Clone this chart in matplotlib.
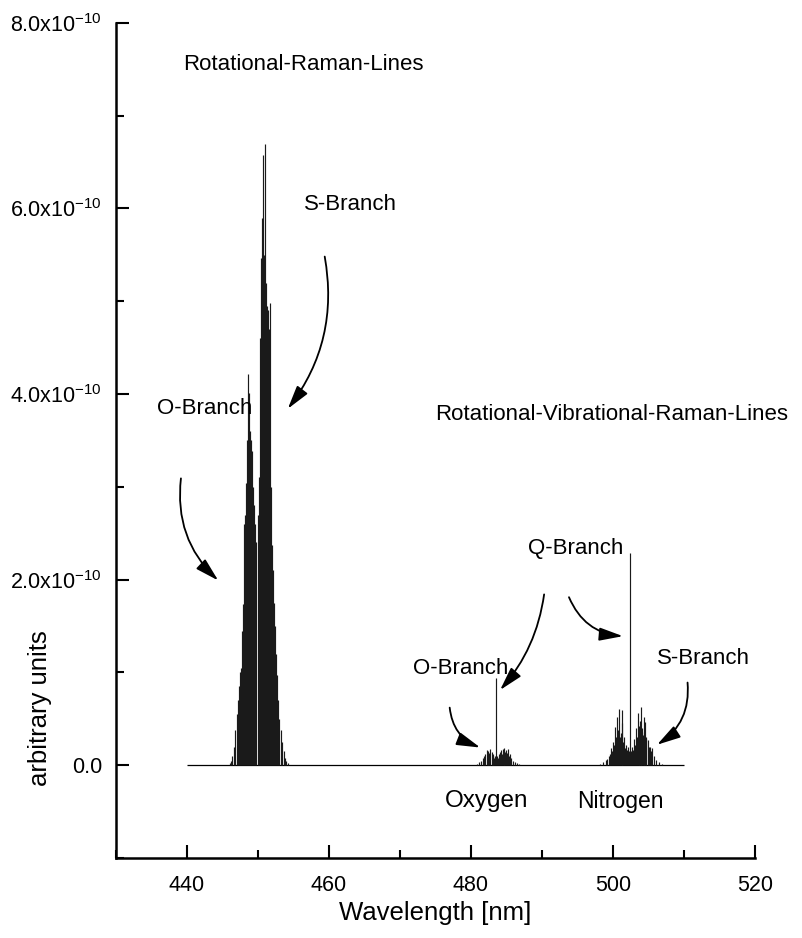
import numpy as np
import matplotlib.pyplot as plt
from matplotlib.ticker import MultipleLocator, FuncFormatter

plt.rcParams['font.family'] = ['Liberation Sans', 'DejaVu Sans']
plt.rcParams['mathtext.fontset'] = 'custom'
plt.rcParams['mathtext.rm'] = 'Liberation Sans'
plt.rcParams['mathtext.it'] = 'Liberation Sans:italic'

SCALE = 1e-10  # intensities below are given in units of 1e-10
Y_MIN, Y_MAX = -1e-10, 8e-10

# spectrum baseline (nm)
baseline_nm = [440.0, 510.0]

# pure rotational Raman, O-branch
rot_o_nm = [446.0, 446.2, 446.4, 446.6, 446.8, 447.0, 447.15, 447.3, 447.45, 447.6,
            447.75, 447.9, 448.05, 448.2, 448.3, 448.45, 448.6, 448.7, 448.85, 449.0,
            449.15, 449.3, 449.45, 449.6, 449.72]
rot_o_int = [0.02, 0.05, 0.10, 0.20, 0.38, 0.55, 0.70, 0.85, 1.00, 1.05,
             1.45, 1.74, 2.60, 2.70, 3.04, 3.50, 4.22, 4.01, 3.60, 3.50,
             3.39, 3.00, 2.80, 2.60, 2.40]

# pure rotational Raman, S-branch
rot_s_nm = [450.05, 450.2, 450.35, 450.42, 450.56, 450.70, 450.85, 450.99, 451.13, 451.27,
            451.41, 451.55, 451.69, 451.83, 451.97, 452.1, 452.25, 452.4, 452.55, 452.7,
            452.85, 453.0, 453.2, 453.4, 453.6, 453.8, 454.0, 454.2]
rot_s_int = [2.70, 3.10, 4.60, 5.46, 5.90, 6.57, 5.50, 6.69, 5.20, 4.95,
             4.90, 4.70, 4.98, 3.00, 2.37, 2.10, 1.75, 1.50, 1.20, 0.97,
             0.70, 0.50, 0.38, 0.25, 0.15, 0.08, 0.04, 0.02]

# rotational-vibrational band of oxygen
oxy_nm = [480.8, 481.1, 481.4, 481.7, 481.9, 482.0, 482.2, 482.35, 482.45, 482.6, 482.7,
          482.9, 483.05, 483.15, 483.3, 483.4,
          483.52,
          483.65, 483.75, 483.95, 484.1, 484.2, 484.35, 484.45, 484.6, 484.7, 484.85,
          484.95, 485.1, 485.2, 485.35, 485.45, 485.7, 485.95, 486.2, 486.5, 486.8]
oxy_int = [0.01, 0.03, 0.05, 0.08, 0.10, 0.12, 0.16, 0.11, 0.15, 0.13, 0.17,
           0.14, 0.10, 0.12, 0.08, 0.10,
           0.94,
           0.10, 0.08, 0.12, 0.14, 0.16, 0.12, 0.17, 0.15, 0.18, 0.14,
           0.16, 0.13, 0.17, 0.10, 0.12, 0.08, 0.05, 0.03, 0.02, 0.01]

# rotational-vibrational band of nitrogen
nit_nm = [498.2, 498.6, 499.0, 499.2, 499.4, 499.6, 499.75, 499.9, 500.0, 500.15,
          500.3, 500.45, 500.55, 500.7, 500.85, 501.0, 501.1, 501.2, 501.3, 501.45,
          501.55, 501.7, 501.8, 501.95, 502.05, 502.2,
          502.4,
          502.55, 502.7, 502.85, 502.95, 503.1, 503.2, 503.35, 503.5, 503.6, 503.7,
          503.8, 503.9, 504.0, 504.1, 504.2, 504.3, 504.4, 504.5, 504.6, 504.7,
          504.9, 505.05, 505.2, 505.35, 505.5, 505.8, 506.1, 506.5, 506.9]
nit_int = [0.01, 0.03, 0.06, 0.07, 0.10, 0.12, 0.18, 0.15, 0.25, 0.22,
           0.41, 0.30, 0.52, 0.38, 0.60, 0.30, 0.35, 0.45, 0.59, 0.25,
           0.30, 0.18, 0.22, 0.16, 0.20, 0.15,
           2.29,
           0.15, 0.20, 0.16, 0.28, 0.22, 0.40, 0.30, 0.56, 0.42, 0.35,
           0.48, 0.63, 0.38, 0.40, 0.33, 0.52, 0.36, 0.46, 0.28, 0.30,
           0.27, 0.20, 0.20, 0.15, 0.18, 0.10, 0.06, 0.03, 0.01]

fig = plt.figure(figsize=(8.02, 9.38), dpi=100)
ax = fig.add_axes([0.1446, 0.0853, 0.7968, 0.8905])

ax.hlines(0, baseline_nm[0], baseline_nm[1], color='black', lw=0.9)
for nm, inten in [(rot_o_nm, rot_o_int), (rot_s_nm, rot_s_int),
                  (oxy_nm, oxy_int), (nit_nm, nit_int)]:
    ax.vlines(nm, 0, np.array(inten) * SCALE, color='0.1', lw=0.85)

ax.set_xlim(430, 520)
ax.set_ylim(Y_MIN, Y_MAX)
ax.xaxis.set_major_locator(MultipleLocator(20))
ax.xaxis.set_minor_locator(MultipleLocator(10))
ax.yaxis.set_major_locator(MultipleLocator(2e-10))
ax.yaxis.set_minor_locator(MultipleLocator(1e-10))


def sci_label(v, pos):
    # only label ticks from 0 up to the top of the axis
    if v < -1e-14 or v > Y_MAX + 1e-14:
        return ''
    if abs(v) < 1e-14:
        return '0.0'
    return '%.1fx10$^{-10}$' % (v / SCALE)


ax.yaxis.set_major_formatter(FuncFormatter(sci_label))

for side in ['top', 'right']:
    ax.spines[side].set_visible(False)
for side in ['left', 'bottom']:
    ax.spines[side].set_linewidth(1.8)

ax.tick_params(which='major', direction='in', length=9.5, width=1.5, labelsize=15.5)
ax.tick_params(which='minor', direction='in', length=6, width=1.5)
ax.tick_params(axis='x', pad=12)
ax.tick_params(axis='y', pad=10)

ax.set_xlabel('Wavelength [nm]', fontsize=18.5, labelpad=4)
ax.set_ylabel('arbitrary units', fontsize=18.5)
ax.yaxis.set_label_coords(-0.10, 0.179)

# labels
txt = dict(fontsize=16, ha='left', va='center')
ax.text(439.4, 7.55e-10, 'Rotational-Raman-Lines', **txt)
ax.text(456.5, 6.04e-10, 'S-Branch', **txt)
ax.text(435.8, 3.84e-10, 'O-Branch', **txt)
ax.text(474.9, 3.78e-10, 'Rotational-Vibrational-Raman-Lines', **txt)
ax.text(488.0, 2.33e-10, 'Q-Branch', **txt)
ax.text(471.8, 1.04e-10, 'O-Branch', **txt)
ax.text(506.2, 1.15e-10, 'S-Branch', **txt)
ax.text(482.25, -0.39e-10, 'Oxygen', fontsize=17.5, ha='center', va='center')
ax.text(501.0, -0.39e-10, 'Nitrogen', fontsize=16.5, ha='center', va='center')

# curved arrows (start -> tip)
arrows = [
    ((459.4, 5.48e-10), (454.2, 3.84e-10), -0.22),
    ((439.15, 3.09e-10), (444.4, 1.99e-10), 0.25),
    ((490.3, 1.84e-10), (484.1, 0.81e-10), -0.15),
    ((493.8, 1.81e-10), (501.4, 1.39e-10), 0.3),
    ((477.0, 0.62e-10), (481.3, 0.19e-10), 0.3),
    ((510.5, 0.89e-10), (506.2, 0.22e-10), -0.3),
]
for start, tip, rad in arrows:
    ax.annotate('', xy=tip, xytext=start,
                arrowprops=dict(arrowstyle='-|>,head_length=0.9,head_width=0.25',
                                connectionstyle='arc3,rad=%s' % rad,
                                color='black', lw=1.3, shrinkA=0, shrinkB=0,
                                mutation_scale=16))

fig.savefig('out.png', dpi=100)
